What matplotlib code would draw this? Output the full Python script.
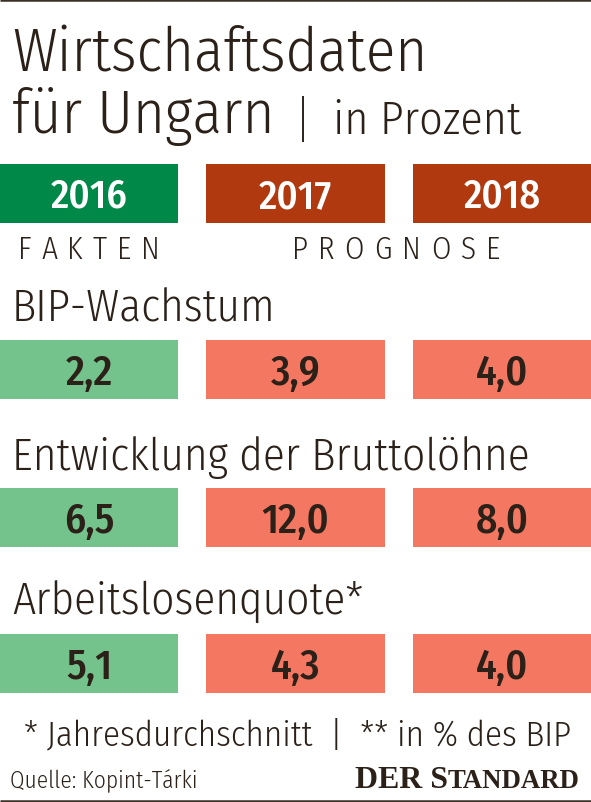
import matplotlib
matplotlib.use("Agg")
import matplotlib.pyplot as plt
from matplotlib.patches import Rectangle

# ---- data ----
title_line1 = "Wirtschaftsdaten"
title_line2 = "für Ungarn"
unit_label = "in Prozent"
years = ["2016", "2017", "2018"]
phases = ["FAKTEN", "PROGNOSE"]
indicators = ["BIP-Wachstum", "Entwicklung der Bruttolöhne", "Arbeitslosenquote*"]
values_2016 = [2.2, 6.5, 5.1]
values_2017 = [3.9, 12.0, 4.3]
values_2018 = [4.0, 8.0, 4.0]
footnote = "* Jahresdurchschnitt  |  ** in % des BIP"
source = "Quelle: Kopint-Tárki"

# ---- style ----
W, H = 591, 803
DARK = "#2b2119"
GREEN_D = "#008849"
RUST = "#b0390f"
GREEN_L = "#74c28c"
SALMON = "#f47762"
FONT = ["Fira Sans Condensed", "DejaVu Sans"]

fig = plt.figure(figsize=(W / 100, H / 100), dpi=100)
ax = fig.add_axes([0, 0, 1, 1])
ax.set_xlim(0, W)
ax.set_ylim(H, 0)
ax.axis("off")
renderer = fig.canvas.get_renderer()


def fit_text(x, y, s, width, ha="left", size=20, weight=300, **kw):
    t = ax.text(x, y, s, ha=ha, va="baseline", fontsize=size, family=FONT,
                fontweight=weight, **kw)
    w = t.get_window_extent(renderer).width
    t.set_fontsize(size * width / w)
    return t


def tracked(x0, x1, y, s, size, weight=300, **kw):
    # letter-spaced text spanning x0..x1
    ts, ws = [], []
    for ch in s:
        t = ax.text(0, y, ch, ha="left", va="baseline", fontsize=size, family=FONT,
                    fontweight=weight, **kw)
        ts.append(t)
        ws.append(t.get_window_extent(renderer).width)
    gap = ((x1 - x0) - sum(ws)) / (len(s) - 1)
    x = x0
    for t, w in zip(ts, ws):
        t.set_x(x)
        x += w + gap


# rules
ax.plot([0, W], [1.2, 1.2], color="#3b2f26", lw=1.8, solid_capstyle="butt")
ax.plot([0, W], [801.5, 801.5], color="#3b2f26", lw=1.8, solid_capstyle="butt")

# title
t1 = fit_text(12, 72, title_line1, 416, size=46, color=DARK)
tsize = t1.get_fontsize()
ax.text(12, 133, title_line2, ha="left", va="baseline", fontsize=tsize, family=FONT,
        fontweight=300, color=DARK)
ax.plot([303, 303], [98, 142], color=DARK, lw=1.4)
fit_text(333, 134, unit_label, 188, size=32, color=DARK)

# column geometry
col_x = [(0, 178), (206, 385), (413, 591)]
hdr_colors = [GREEN_D, RUST, RUST]
row_colors = [GREEN_L, SALMON, SALMON]

# header
for (xa, xb), yr, c in zip(col_x, years, hdr_colors):
    ax.add_patch(Rectangle((xa, 165), xb - xa, 59, color=c, lw=0))
    ax.text((xa + xb) / 2, 208, yr, ha="center", va="baseline", fontsize=29,
            family=FONT, color="white", fontweight=450)

tracked(18, 160, 259, phases[0], 22.5, color=DARK)
tracked(292, 500, 259, phases[1], 22.5, color=DARK)

# rows
label_base = [322, 470, 615]
box_top = [341, 489, 635]
cols = [values_2016, values_2017, values_2018]
lt = fit_text(12, label_base[1], indicators[1], 518, size=30, color=DARK)
lsize = lt.get_fontsize()
for i, lab in enumerate(indicators):
    if i != 1:
        ax.text(12, label_base[i], lab, ha="left", va="baseline", fontsize=lsize,
                family=FONT, fontweight=300, color=DARK)
    for j, ((xa, xb), c) in enumerate(zip(col_x, row_colors)):
        ax.add_patch(Rectangle((xa, box_top[i]), xb - xa, 59, color=c, lw=0))
        s = f"{cols[j][i]:.1f}".replace(".", ",")
        ax.text((xa + xb) / 2, box_top[i] + 44, s, ha="center", va="baseline",
                fontsize=30, family=FONT, color=DARK, fontweight=500)

# footer
fit_text(W / 2 + 2, 745, footnote, 547, ha="center", size=22, color=DARK)
fit_text(10, 788, source, 187, size=16, color=DARK)
serif = ["Liberation Serif", "DejaVu Serif"]
a = ax.text(0, 788, "DER S", ha="left", va="baseline", fontsize=19, family=serif,
            fontweight="bold", color=DARK)
b = ax.text(0, 788, "TANDARD", ha="left", va="baseline", fontsize=16, family=serif,
            fontweight="bold", color=DARK)
wa = a.get_window_extent(renderer).width
wb = b.get_window_extent(renderer).width
sc = 225 / (wa + wb)
a.set_fontsize(19 * sc)
b.set_fontsize(16 * sc)
wa = a.get_window_extent(renderer).width
wb = b.get_window_extent(renderer).width
a.set_x(580 - wa - wb)
b.set_x(580 - wb)

fig.savefig("out.png", dpi=100, facecolor="white")
